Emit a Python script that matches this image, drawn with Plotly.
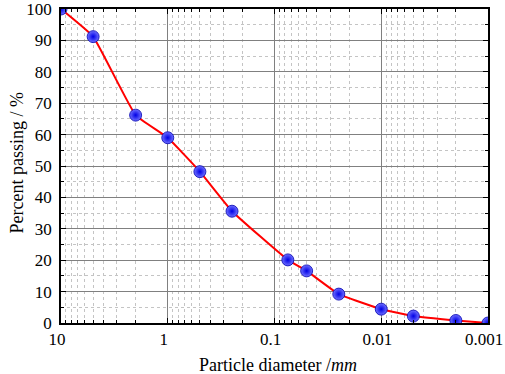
import plotly.graph_objects as go

diameter = [10, 5, 2, 1, 0.5, 0.25, 0.075, 0.05, 0.025, 0.01, 0.005, 0.002, 0.001]
passing = [100, 91.2, 66.2, 59.0, 48.2, 35.6, 20.1, 16.6, 9.2, 4.4, 2.2, 0.8, 0.0]
x_ticks = [10, 1, 0.1, 0.01, 0.001]
x_tick_text = ["10", "1", "0.1", "0.01", "0.001"]

font = "Liberation Serif, Times New Roman, serif"

fig = go.Figure()
fig.add_trace(go.Scatter(
    x=diameter, y=passing, mode="lines",
    line=dict(color="#ff0000", width=2, shape="spline", smoothing=0.35),
    hoverinfo="skip", showlegend=False,
))
fig.add_trace(go.Scatter(
    x=diameter, y=passing, mode="markers",
    marker=dict(size=12, color="#7070ff",
                gradient=dict(type="radial", color="#0000e6"),
                line=dict(width=0.8, color="#0000b0")),
    showlegend=False,
))

axis_common = dict(
    showline=True, linecolor="black", linewidth=1.5, mirror="ticks",
    ticks="inside", ticklen=5, tickcolor="black", tickwidth=1,
    showgrid=True, gridcolor="#808080", gridwidth=1,
    zeroline=False, automargin=False, ticklabeloverflow="allow",
    tickfont=dict(family=font, size=17, color="black"),
)

fig.update_xaxes(
    type="log", range=[1, -3],
    tickvals=x_ticks, ticktext=x_tick_text, ticklabelshift=4,
    minor=dict(ticks="inside", ticklen=3, tickcolor="black", dtick="D1",
               showgrid=True, gridcolor="#c4c4c4", griddash="dot", gridwidth=1),
    **axis_common,
)
fig.update_yaxes(
    range=[0, 100], dtick=10, ticklabelstandoff=4,
    minor=dict(ticks="inside", ticklen=3, tickcolor="black", dtick=5,
               showgrid=True, gridcolor="#c4c4c4", griddash="dot", gridwidth=1),
    **axis_common,
)

fig.add_annotation(
    text="Particle diameter /<i>mm</i>", xref="paper", yref="paper",
    x=0.509, y=-0.134, xanchor="center", yanchor="middle", showarrow=False,
    font=dict(family=font, size=18, color="black"),
)
fig.add_annotation(
    text="Percent passing / %", xref="paper", yref="paper",
    x=-0.103, y=0.508, xanchor="center", yanchor="middle", showarrow=False,
    textangle=-90, font=dict(family=font, size=18, color="black"),
)

fig.update_layout(
    width=505, height=374,
    margin=dict(l=61, r=17, t=9, b=51),
    plot_bgcolor="white", paper_bgcolor="white",
    font=dict(family=font, color="black"),
)

fig.write_html(
    "out.html",
    config={"displayModeBar": False},
    post_script="document.body.style.margin='0';document.body.style.overflow='hidden';",
)
